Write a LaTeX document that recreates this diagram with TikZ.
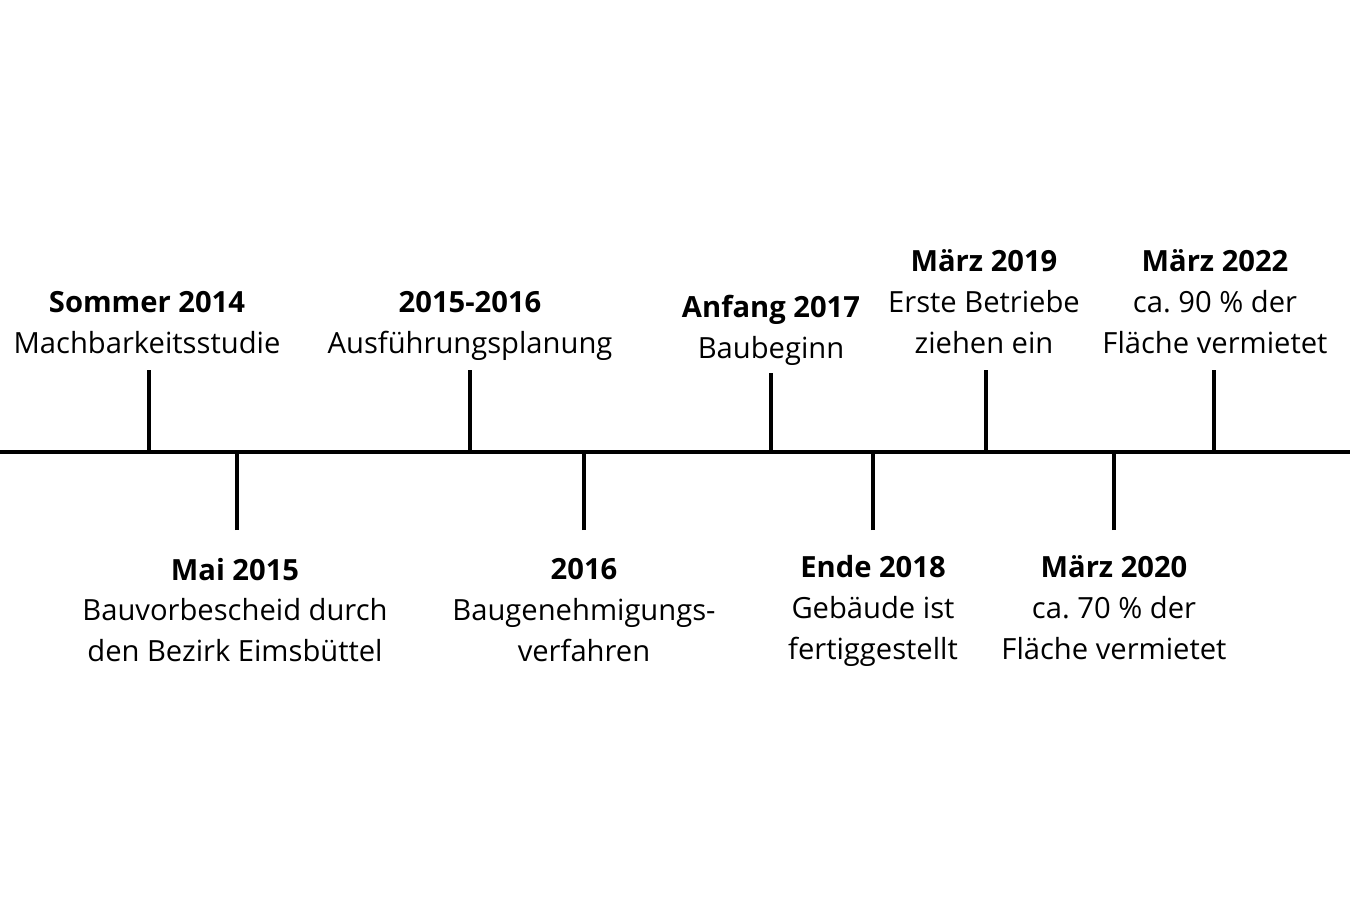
\documentclass[tikz,border=0pt]{standalone}
\usepackage{fontspec}
\setmainfont{Open Sans}
\usetikzlibrary{positioning}

\tikzset{
  event/.style={align=center, inner sep=0pt, font=\fontsize{16.6}{23.3}\selectfont},
  tick/.style={line width=2pt},
}

\begin{document}
\begin{tikzpicture}[x=0.02cm, y=-0.02cm]
    \useasboundingbox (0,0) rectangle (1350,900);

    % axis
    \coordinate (axisL) at (0,452);
    \coordinate (axisR) at (1350,452);
    \draw[tick] (axisL) -- (axisR);

    % events above the axis
    \node[event] (sommer) at (147,323) {\textbf{Sommer 2014}\\Machbarkeitsstudie};
    \node[event] (planung) at (470,326) {\textbf{2015-2016}\\Ausführungsplanung};
    \node[event] (anfang) at (771,330) {\textbf{Anfang 2017}\\Baubeginn};
    \node[event] (maerzA) at (984,302) {\textbf{März 2019}\\Erste Betriebe\\ziehen ein};
    \node[event] (maerzC) at (1215,302) {\textbf{März 2022}\\ca.\ 90 \% der\\Fläche vermietet};

    % events below the axis
    \node[event] (mai) at (235,610) {\textbf{Mai 2015}\\Bauvorbescheid durch\\den Bezirk Eimsbüttel};
    \node[event] (verf) at (584,610) {\textbf{2016}\\Baugenehmigungs-\\verfahren};
    \node[event] (ende) at (873,611) {\textbf{Ende 2018}\\Gebäude ist\\fertiggestellt};
    \node[event] (maerzB) at (1114,608) {\textbf{März 2020}\\ca.\ 70 \% der\\Fläche vermietet};

    % tick ends
    \coordinate (tSommer) at (149,370);
    \coordinate (tPlanung) at (470,370);
    \coordinate (tAnfang) at (771,373);
    \coordinate (tMaerzA) at (986,370);
    \coordinate (tMaerzC) at (1214,370);
    \coordinate (tMai) at (237,530);
    \coordinate (tVerf) at (584,530);
    \coordinate (tEnde) at (873,530);
    \coordinate (tMaerzB) at (1114,530);

    \draw[tick] (tSommer) -- (tSommer |- axisL);
    \draw[tick] (tPlanung) -- (tPlanung |- axisL);
    \draw[tick] (tAnfang) -- (tAnfang |- axisL);
    \draw[tick] (tMaerzA) -- (tMaerzA |- axisL);
    \draw[tick] (tMaerzC) -- (tMaerzC |- axisL);
    \draw[tick] (tMai) -- (tMai |- axisL);
    \draw[tick] (tVerf) -- (tVerf |- axisL);
    \draw[tick] (tEnde) -- (tEnde |- axisL);
    \draw[tick] (tMaerzB) -- (tMaerzB |- axisL);
\end{tikzpicture}
\end{document}
